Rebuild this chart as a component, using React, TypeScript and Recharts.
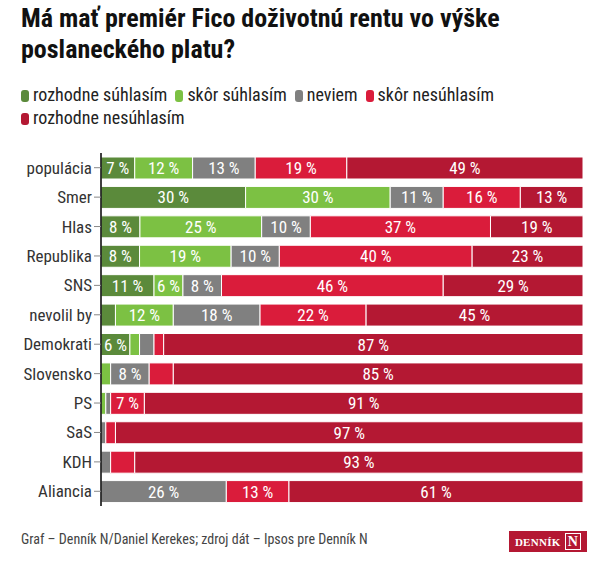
import React from 'react';
import { BarChart, Bar, XAxis, YAxis } from 'recharts';

const categories = ['populácia', 'Smer', 'Hlas', 'Republika', 'SNS', 'nevolil by', 'Demokrati', 'Slovensko', 'PS', 'SaS', 'KDH', 'Aliancia'];
const rozhodneSuhlasim = [7, 30, 8, 8, 11, 3, 6, 0, 0, 0, 0, 0];
const skorSuhlasim = [12, 30, 25, 19, 6, 12, 2, 2, 1, 0, 0, 0];
const neviem = [13, 11, 10, 10, 8, 18, 3, 8, 1, 1, 2, 26];
const skorNesuhlasim = [19, 16, 37, 40, 46, 22, 2, 5, 7, 2, 5, 13];
const rozhodneNesuhlasim = [49, 13, 19, 23, 29, 45, 87, 85, 91, 97, 93, 61];

const seriesNames = ['rozhodne súhlasím', 'skôr súhlasím', 'neviem', 'skôr nesúhlasím', 'rozhodne nesúhlasím'];
const seriesValues = [rozhodneSuhlasim, skorSuhlasim, neviem, skorNesuhlasim, rozhodneNesuhlasim];
const seriesKeys = ['a', 'b', 'c', 'd', 'e'];
const colors = ['#5b8a3b', '#7cc143', '#808080', '#da1c3b', '#b41833'];

const data = categories.map((cat, i) => {
  const row: any = { cat };
  seriesKeys.forEach((k, s) => { row[k] = seriesValues[s][i]; });
  return row;
});

const FONT = "'Roboto Condensed', 'Liberation Sans Narrow', 'Arial Narrow', Roboto, sans-serif";

const makeLabel = (s: number) => (props: any) => {
  const { x, y, width, height, index } = props;
  const v = seriesValues[s][index];
  if (v < 6) return null;
  return (
    <text
      x={x + width / 2}
      y={y + height / 2}
      textAnchor="middle"
      dominantBaseline="central"
      fill="#fff"
      fontSize={17}
      fontFamily={FONT}
      style={{ fontStretch: 'condensed' }}
    >
      {`${v} %`}
    </text>
  );
};

export default function App() {
  return (
    <div style={{ position: 'absolute', left: 0, top: 0, width: 606, height: 574, background: '#fff', fontFamily: FONT, fontStretch: 'condensed' }}>
      <div style={{ position: 'absolute', left: 21, top: 3, width: 560, fontSize: 26, fontWeight: 700, lineHeight: '31px', color: '#111' }}>
        Má mať premiér Fico doživotnú rentu vo výške poslaneckého platu?
      </div>
      <div style={{ position: 'absolute', left: 21, top: 83, width: 575, fontSize: 18, lineHeight: '23px', color: '#222' }}>
        {seriesNames.map((n, i) => (
          <span key={n} style={{ display: 'inline-block', marginRight: 8, whiteSpace: 'nowrap' }}>
            <span style={{ display: 'inline-block', width: 8, height: 12, borderRadius: 3, background: colors[i], marginRight: 4, verticalAlign: '-1px' }} />
            {n}
          </span>
        ))}
      </div>
      <div style={{ position: 'absolute', left: 0, top: 0 }}>
        <BarChart
          width={606}
          height={574}
          data={data}
          layout="vertical"
          stackOffset="expand"
          margin={{ top: 153, right: 23, bottom: 68, left: 0 }}
          barSize={22}
        >
          <XAxis type="number" hide domain={[0, 1]} />
          <YAxis
            type="category"
            dataKey="cat"
            width={101}
            axisLine={{ stroke: '#000', strokeWidth: 1.5 }}
            tickLine={{ stroke: '#888' }}
            tickSize={7}
            tick={{ fill: '#333', fontSize: 17, fontFamily: FONT, style: { fontStretch: 'condensed' } }}
          />
          {seriesKeys.map((k, s) => (
            <Bar
              key={k}
              dataKey={k}
              name={seriesNames[s]}
              stackId="s"
              fill={colors[s]}
              stroke="#fff"
              strokeWidth={1}
              isAnimationActive={false}
              label={makeLabel(s)}
            />
          ))}
        </BarChart>
      </div>
      <div style={{ position: 'absolute', left: 21, top: 531, fontSize: 14, color: '#444' }}>
        Graf – Denník N/Daniel Kerekes; zdroj dát – Ipsos pre Denník N
      </div>
      <div style={{ position: 'absolute', left: 509, top: 531, width: 78, height: 21, background: '#b41833', color: '#fff', display: 'flex', alignItems: 'center', justifyContent: 'center', fontFamily: "'Liberation Serif', serif", fontWeight: 700, fontSize: 11, letterSpacing: 0.3 }}>
        DENNÍK
        <span style={{ marginLeft: 4, border: '1.5px solid #fff', padding: '0 2px', fontSize: 14, lineHeight: '15px' }}>N</span>
      </div>
    </div>
  );
}
